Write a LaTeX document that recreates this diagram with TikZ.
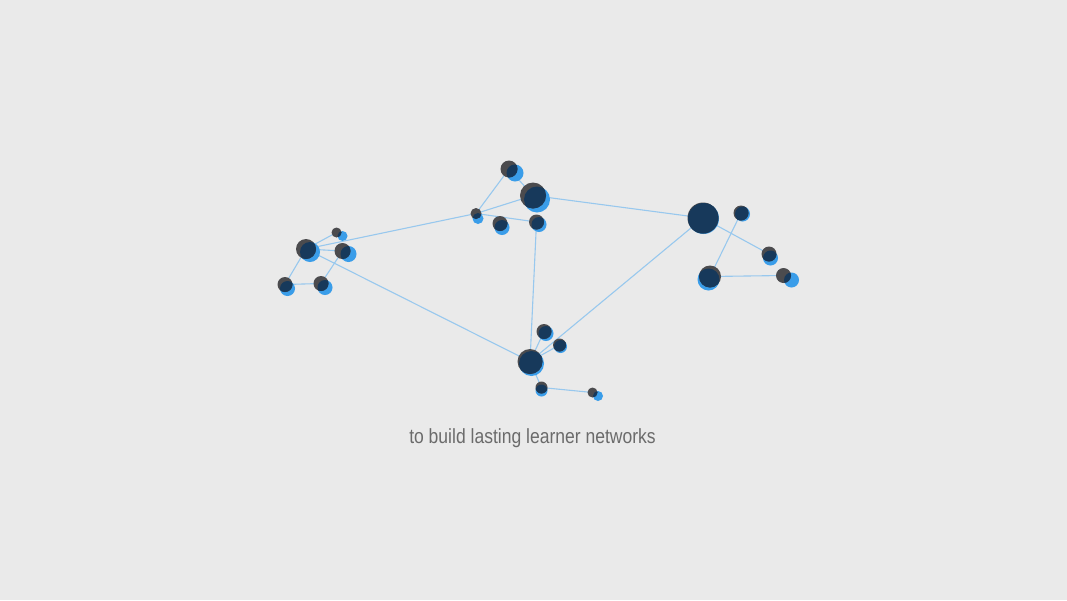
\documentclass[tikz,border=0pt]{standalone}
\usepackage{fontspec}
\newfontfamily\capfont[FakeStretch=0.855]{Liberation Sans}
\definecolor{bgC}{HTML}{EAEAEA}
\definecolor{blueC}{HTML}{3A9DE9}
\definecolor{greyC}{HTML}{4B4B4E}
\definecolor{navyC}{HTML}{17395B}
\definecolor{edgeC}{HTML}{98C8EE}
\definecolor{textC}{HTML}{6B6B6B}
\begin{document}
\begin{tikzpicture}[x=1pt,y=-1pt,
  link/.style={draw=edgeC,line width=1.1pt},
  caption/.style={text=textC,font=\capfont\fontsize{20.5}{24}\selectfont,anchor=base}]
\fill[bgC] (0,0) rectangle (1067,600);
\useasboundingbox (0,0) rectangle (1067,600);
\def\nodelist{L1/306/249/10/4/3, L2/336.5/232.5/5/6/3.5, L3/342.5/251/8/6/3,
 L4/285/284.5/7.5/2.5/4, L5/321/283.5/7.5/4/4,
 M1/509/169/8.5/6/4, M2/533/195.5/13/4/4, M3/476/213.5/5.5/2/5,
 M4/500/223.5/7.5/2/4, M5/536.5/222/7.5/2.5/2.5,
 R1/703/218/15.5/0.5/0.5, R2/741/213/7.5/1.5/1, R3/769/254/7.5/1.5/4,
 R4/710/276.5/11/-1.5/3, R5/783.5/275.5/7.5/8/4.5,
 B1/530/361.5/12.5/1.5/2, B2/544/331.5/7.5/2/2, B3/559.5/345/6.5/1/1.5,
 B4/541.5/387.5/6/0/3, B5/592.5/392.5/5/5.5/3.5}
\foreach \n/\x/\y/\r/\dx/\dy in \nodelist {\coordinate (\n) at (\x,\y);}
% connectors
\foreach \a/\b in {L1/L2, L1/L3, L1/M3, L1/L4, L1/B1, L4/L5, L5/L3,
  M3/M1, M3/M2, M3/M5, M1/M2, M2/R1, M5/B1, R1/B1, R1/R3, R2/R4, R4/R5,
  B1/B2, B1/B3, B1/B4, B4/B5}
  {\draw[link] (\a) -- (\b);}
% dots
\foreach \n/\x/\y/\r/\dx/\dy in \nodelist {
  \fill[blueC] ([shift={(\dx,\dy)}]\n) circle (\r pt);
  \fill[greyC] (\n) circle (\r pt);
  \begin{scope}
    \clip ([shift={(\dx,\dy)}]\n) circle (\r pt);
    \fill[navyC] (\n) circle (\r pt);
  \end{scope}
}
\node[caption] (cap) at (532.5,443.5) {to build lasting learner networks};
\end{tikzpicture}
\end{document}
